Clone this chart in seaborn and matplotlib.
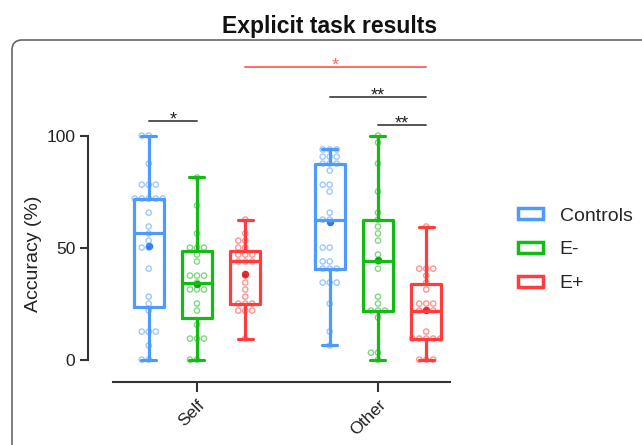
import numpy as np
import pandas as pd
import seaborn as sns
import matplotlib.pyplot as plt
from matplotlib.patches import Patch, FancyBboxPatch
from matplotlib.transforms import IdentityTransform

# categories
conditions = ["Self", "Other"]
groups = ["Controls", "E-", "E+"]
colors = ["#4d9bff", "#14bb14", "#ff3d3d"]
mean_colors = ["#2f78e8", "#0c9a0c", "#e02020"]

# accuracy values (%)
self_controls = [100, 100, 87.5, 78.1, 78.1, 78.1, 71.9, 71.9, 71.9, 71.9, 71.9, 65.6, 59.4,
                 56.3, 53.1, 50, 50, 40.6, 28.1, 25, 21.9, 12.5, 12.5, 12.5, 6.3, 0, 0]
self_eminus = [81.3, 68.8, 56.3, 50, 50, 50, 46.9, 43.8, 37.5, 37.5, 37.5, 34.4, 31.3, 31.3,
               31.3, 25, 21.9, 15.6, 9.4, 9.4, 9.4, 0, 0]
self_eplus = [62.5, 56.3, 53.1, 53.1, 50, 50, 46.9, 46.9, 46.9, 43.8, 43.8, 43.8, 37.5, 34.4,
              31.3, 28.1, 25, 25, 25, 21.9, 21.9, 21.9, 9.4]
other_controls = [93.8, 93.8, 93.8, 90.6, 90.6, 90.6, 87.5, 87.5, 87.5, 84.4, 78.1, 78.1, 75,
                  65.6, 62.5, 62.5, 50, 50, 43.8, 43.8, 40.6, 40.6, 40.6, 34.4, 34.4, 34.4,
                  25, 12.5, 6.3]
other_eminus = [100, 96.9, 87.5, 75, 65.6, 62.5, 59.4, 56.3, 53.1, 46.9, 43.8, 40.6, 28.1, 25,
                21.9, 21.9, 21.9, 18.8, 3.1, 3.1, 0]
other_eplus = [59.4, 40.6, 40.6, 40.6, 37.5, 34.4, 31.3, 25, 25, 25, 21.9, 21.9, 21.9, 12.5,
               9.4, 9.4, 9.4, 9.4, 9.4, 0, 0, 0]

# significance bars: (condition a, group a, condition b, group b, height, label, colour)
sig_bars = [
    ("Self", "Controls", "Self", "E-", 106.7, "*", "#555555"),
    ("Other", "E-", "Other", "E+", 104.9, "**", "#555555"),
    ("Other", "Controls", "Other", "E+", 117.4, "**", "#555555"),
    ("Self", "E+", "Other", "E+", 130.4, "*", "#ff6a6a"),
]

values = {
    ("Self", "Controls"): self_controls, ("Self", "E-"): self_eminus, ("Self", "E+"): self_eplus,
    ("Other", "Controls"): other_controls, ("Other", "E-"): other_eminus, ("Other", "E+"): other_eplus,
}
rows = []
for (cond, grp), vals in values.items():
    for v in vals:
        rows.append({"condition": cond, "group": grp, "accuracy": v})
df = pd.DataFrame(rows)

sns.set_style("white")
plt.rcParams["font.family"] = ["Liberation Sans", "DejaVu Sans"]

fig = plt.figure(figsize=(6.42, 4.45), dpi=100)
ax = fig.add_axes([113 / 642, 63 / 445, 337 / 642, 332 / 445])

pal = dict(zip(groups, colors))
sns.boxplot(data=df, x="condition", y="accuracy", hue="group", order=conditions,
            hue_order=groups, palette=pal, fill=False, width=0.8, gap=0.38,
            whis=(0, 100), linewidth=2.3, showfliers=False, legend=False, ax=ax)
sns.swarmplot(data=df, x="condition", y="accuracy", hue="group", order=conditions,
              hue_order=groups, palette=pal, dodge=True, size=3.8, legend=False, ax=ax)
# hollow, light points like in the original
for coll in ax.collections:
    fc = coll.get_facecolors().copy()
    fc[:, 3] = 0.55
    coll.set_edgecolors(fc)
    coll.set_facecolors("none")
    coll.set_linewidth(1.0)
sns.pointplot(data=df, x="condition", y="accuracy", hue="group", order=conditions,
              hue_order=groups, palette=dict(zip(groups, mean_colors)), estimator="mean",
              errorbar=None, dodge=0.8 * 2 / 3, linestyle="none", markers="o",
              markersize=3.3, legend=False, ax=ax)


def pos(cond, grp):
    return conditions.index(cond) + (groups.index(grp) - 1) * 0.8 / 3


for ca, ga, cb, gb, h, lab, col in sig_bars:
    x0, x1 = pos(ca, ga), pos(cb, gb)
    ax.plot([x0, x1], [h, h], color=col, lw=1.4, clip_on=False)
    ax.annotate(lab, xy=((x0 + x1) / 2, h), xytext=(0, -2.5), textcoords="offset points",
                ha="center", va="baseline", fontsize=13,
                color=col if col != "#555555" else "#222222")

ax.set_xlim(-0.464, 1.398)
ax.set_ylim(-10, 138.2)
ax.set_yticks([0, 50, 100])
ax.set_xlabel("")
ax.set_ylabel("Accuracy (%)", fontsize=14, color="#222222")
ax.yaxis.set_label_coords(-0.21, 0.385)

sns.despine(ax=ax)
ax.spines["left"].set_position(("outward", 18))
ax.spines["left"].set_bounds(0, 100)
for s in ["left", "bottom"]:
    ax.spines[s].set_color("#333333")
    ax.spines[s].set_linewidth(1.5)
ax.tick_params(axis="y", length=6, width=1.5, color="#333333", labelsize=12.5,
               labelcolor="#222222", left=True, pad=3)
ax.tick_params(axis="x", length=7, width=1.5, color="#333333", labelsize=12.5,
               labelcolor="#222222", bottom=True, pad=4)
for lab in ax.get_xticklabels():
    lab.set_rotation(45)
    lab.set_ha("right")
    lab.set_va("top")
    lab.set_rotation_mode("anchor")

handles = [Patch(facecolor="white", edgecolor=c, linewidth=2.5, label=g) for g, c in zip(groups, colors)]
fig.legend(handles=handles, loc="center left", bbox_to_anchor=(518 / 642, 1 - 250 / 445),
           frameon=False, fontsize=14, handlelength=1.3, handleheight=0.5,
           handletextpad=0.85, labelspacing=0.87, borderpad=0, borderaxespad=0)

fig.text(330 / 642, 1 - 27 / 445, "Explicit task results", ha="center", va="center",
         fontsize=16.5, fontweight="bold", color="#111111")

frame = FancyBboxPatch((12, -30), 700, 445 - 40 + 30, boxstyle="round,pad=0,rounding_size=10",
                       transform=IdentityTransform(), facecolor="none", edgecolor="#666666",
                       linewidth=1.2, zorder=-1)
fig.patches.append(frame)

fig.savefig("out.png", dpi=100)
